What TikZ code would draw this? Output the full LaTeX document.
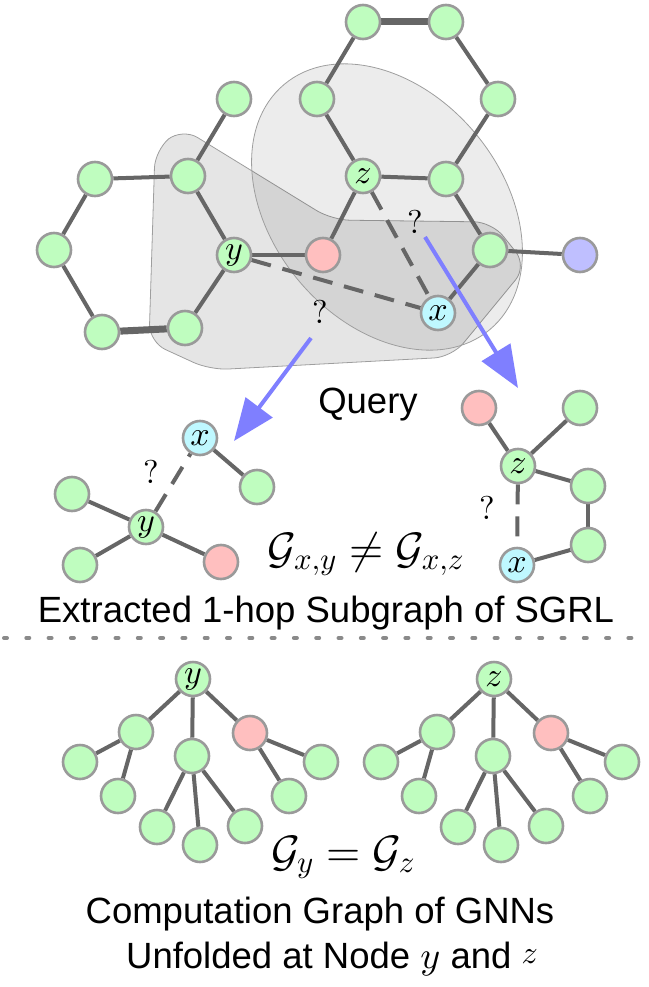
\documentclass[tikz,border=0pt]{standalone}
\usepackage[no-math]{fontspec}
\setmainfont{Liberation Sans}
\DeclareFontShape{OML}{cmm}{m}{it}{<->cmmi10}{}
\DeclareFontShape{OMS}{cmsy}{m}{n}{<->cmsy10}{}
\DeclareFontShape{OT1}{cmr}{m}{n}{<->cmr10}{}
\usetikzlibrary{arrows.meta}
\definecolor{ngreen}{HTML}{BFFDBF}
\definecolor{npink}{HTML}{FFBFBF}
\definecolor{ncyan}{HTML}{BFF8FF}
\definecolor{nblue}{HTML}{BFBFFF}
\definecolor{bordergray}{HTML}{9A9A9A}
\definecolor{edgegray}{HTML}{666666}
\definecolor{arrowblue}{HTML}{7F7FFF}
\definecolor{sepgray}{HTML}{8A8A8A}
\pgfdeclarelayer{back}
\pgfdeclarelayer{edgelayer}
\pgfsetlayers{back,edgelayer,main}
\begin{document}
\begin{tikzpicture}[x=1pt,y=-1pt,
 nd/.style={circle, draw=bordergray, line width=2.6pt, minimum size=34pt, inner sep=0pt, font=\fontsize{34}{34}\selectfont},
 ng/.style={nd, fill=ngreen},
 np/.style={nd, fill=npink},
 nc/.style={nd, fill=ncyan},
 nb/.style={nd, fill=nblue},
 ln/.style={draw=edgegray, line width=4pt},
 lnb/.style={draw=edgegray, line width=7pt},
 dsh/.style={draw=edgegray, line width=4pt, dash pattern=on 20pt off 12pt},
 arr/.style={draw=arrowblue, line width=4pt, -{Triangle[length=42pt,width=33pt]}},
 region/.style={fill=black, fill opacity=0.1, draw=black!38, line width=0.8pt},
 qm/.style={font=\fontsize{33}{33}\selectfont, inner sep=0pt},
 lbl/.style={font=\fontsize{36.5}{40}\selectfont, inner sep=0pt, anchor=base},
 frm/.style={font=\fontsize{44}{44}\selectfont, inner sep=0pt, anchor=base},
 sepline/.style={draw=sepgray, line width=4pt, line cap=round, dash pattern=on 3pt off 19.3pt}
]
\useasboundingbox (0,0) rectangle (648,987);

% ---------- top graph nodes ----------
\node[ng] (A1) at (363,22) {};
\node[ng] (A2) at (446,22) {};
\node[ng] (B1) at (317,99) {};
\node[ng] (B2) at (498,99) {};
\node[ng] (C)  at (234,99) {};
\node[ng] (D)  at (188,176) {};
\node[ng] (E)  at (95,179) {};
\node[ng] (z)  at (363,176) {$z$};
\node[ng] (F)  at (446,179) {};
\node[ng] (G)  at (54,250) {};
\node[ng] (y)  at (234,255) {$y$};
\node[np] (pk) at (323,255) {};
\node[ng] (H)  at (490,250) {};
\node[nb] (bl) at (580,255) {};
\node[nc] (x)  at (438,313) {$x$};
\node[ng] (I)  at (102,332) {};
\node[ng] (J)  at (185,328) {};
\node[qm] (q1) at (415,222) {$?$};
\node[qm] (q2) at (320,312) {$?$};

\begin{pgfonlayer}{back}
\path[region, rounded corners=18pt] (182,128) -- (332,220) -- (492,222) -- (527,266) -- (452,357) -- (210,370) -- (149,342) -- (155,150) -- cycle;
\path[region, fill opacity=0.075, rotate around={-50:(387,207)}] (387,207) ellipse [x radius=160, y radius=115];
\end{pgfonlayer}

\begin{pgfonlayer}{edgelayer}
\draw[lnb] (A1) -- (A2);
\draw[lnb] (I) -- (J);
\draw[ln] (A1) -- (B1);
\draw[ln] (A2) -- (B2);
\draw[ln] (B1) -- (z);
\draw[ln] (B2) -- (F);
\draw[ln] (z) -- (F);
\draw[ln] (z) -- (pk);
\draw[ln] (C) -- (D);
\draw[ln] (D) -- (E);
\draw[ln] (D) -- (y);
\draw[ln] (E) -- (G);
\draw[ln] (G) -- (I);
\draw[ln] (J) -- (y);
\draw[ln] (y) -- (pk);
\draw[ln] (F) -- (H);
\draw[ln] (H) -- (x);
\draw[ln] (H) -- (bl);
\draw[dsh] (y) -- (x);
\draw[dsh] (z) -- (x);
\end{pgfonlayer}

% ---------- arrows ----------
\coordinate (ra0) at (425,237);
\coordinate (ra1) at (518,388);
\coordinate (la0) at (311,338);
\coordinate (la1) at (234,441);
\draw[arr] (ra0) -- (ra1);
\draw[arr] (la0) -- (la1);

\node[lbl] (query) at (368,413) {Query};

% ---------- middle left subgraph ----------
\node[nc] (mx)  at (200,438) {$x$};
\node[ng] (mg1) at (257,487) {};
\node[ng] (my)  at (146,527) {$y$};
\node[ng] (mg2) at (72,494) {};
\node[ng] (mg3) at (80,565) {};
\node[np] (mpk) at (221,562) {};
\node[qm] (mq)  at (151,472) {$?$};

% ---------- middle right subgraph ----------
\node[np] (npk) at (479,408) {};
\node[ng] (ng1) at (580,408) {};
\node[ng] (nz)  at (518,466) {$z$};
\node[ng] (ng2) at (588,486) {};
\node[ng] (ng3) at (588,545) {};
\node[nc] (nx)  at (517,565) {$x$};
\node[qm] (nq)  at (487,508) {$?$};

\begin{pgfonlayer}{edgelayer}
\draw[ln] (mx) -- (mg1);
\draw[ln] (my) -- (mg2);
\draw[ln] (my) -- (mg3);
\draw[ln] (my) -- (mpk);
\draw[dsh] (my) -- (mx);
\draw[ln] (npk) -- (nz);
\draw[ln] (ng1) -- (nz);
\draw[ln] (nz) -- (ng2);
\draw[ln] (ng2) -- (ng3);
\draw[ln] (ng3) -- (nx);
\draw[dsh] (nz) -- (nx);
\end{pgfonlayer}

\node[frm] (neq) at (366,563) {$\mathcal{G}_{x,y}\neq\mathcal{G}_{x,z}$};
\node[lbl] (ext) at (326,622) {Extracted 1-hop Subgraph of SGRL};

% ---------- separator ----------
\coordinate (s1) at (4,638);
\coordinate (s2) at (648,638);
\draw[sepline] (s1) -- (s2);

% ---------- computation trees ----------
\foreach \p/\dx/\lab in {L/0/y,R/301/z}{
  \node[ng] (\p r)  at (193+\dx,679) {$\lab$};
  \node[ng] (\p a)  at (136+\dx,732) {};
  \node[ng] (\p b)  at (192+\dx,756) {};
  \node[np] (\p c)  at (250+\dx,733) {};
  \node[ng] (\p a1) at (80+\dx,762) {};
  \node[ng] (\p a2) at (118+\dx,796) {};
  \node[ng] (\p b1) at (157+\dx,827) {};
  \node[ng] (\p b2) at (200+\dx,845) {};
  \node[ng] (\p b3) at (245+\dx,826) {};
  \node[ng] (\p c1) at (289+\dx,796) {};
  \node[ng] (\p c2) at (321+\dx,762) {};
  \begin{pgfonlayer}{edgelayer}
    \draw[ln] (\p r) -- (\p a);
    \draw[ln] (\p r) -- (\p b);
    \draw[ln] (\p r) -- (\p c);
    \draw[ln] (\p a) -- (\p a1);
    \draw[ln] (\p a) -- (\p a2);
    \draw[ln] (\p b) -- (\p b1);
    \draw[ln] (\p b) -- (\p b2);
    \draw[ln] (\p b) -- (\p b3);
    \draw[ln] (\p c) -- (\p c1);
    \draw[ln] (\p c) -- (\p c2);
  \end{pgfonlayer}
}

\node[frm] (eq) at (343,866) {$\mathcal{G}_y=\mathcal{G}_z$};
\node[lbl] (comp) at (320,923) {Computation Graph of GNNs};
\node[lbl] (unf) at (332,968) {Unfolded at Node {\fontsize{38}{38}\selectfont$y$} and \raisebox{5pt}{\fontsize{32}{32}\selectfont$z$}};
\end{tikzpicture}
\end{document}
